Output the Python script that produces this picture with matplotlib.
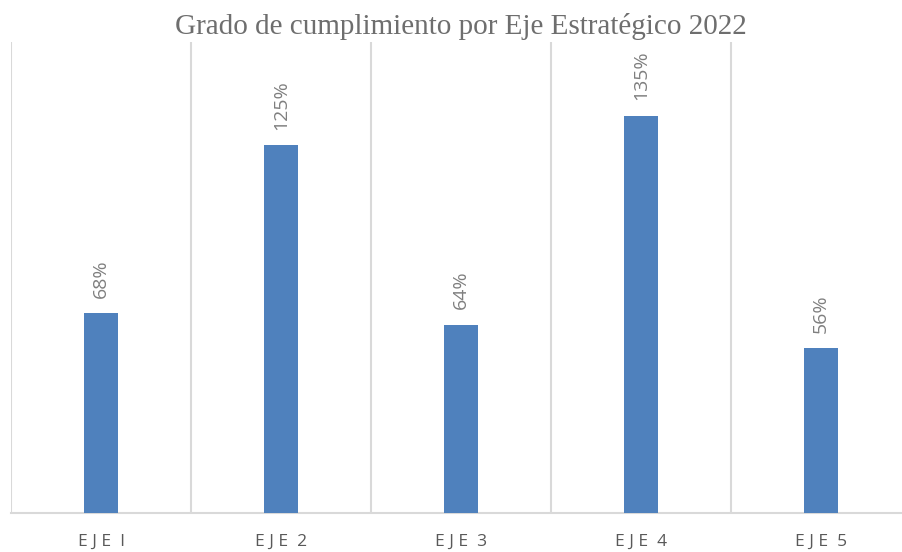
import numpy as np
import matplotlib.pyplot as plt

# Data
categories = ['E J E  I', 'E J E  2', 'E J E  3', 'E J E  4', 'E J E  5']
values = [68, 125, 64, 135, 56]
labels = ['68%', '125%', '64%', '135%', '56%']

BAR_COLOR = '#4F81BD'
GRID_COLOR = '#D9D9D9'
TEXT_COLOR = '#595959'

fig = plt.figure(figsize=(9.02, 5.52), dpi=100)
ax = fig.add_axes([11 / 902, 39 / 552, 1 - 11 / 902, (513 - 42) / 552])

x = np.arange(len(categories))
ax.bar(x, values, width=0.185, color=BAR_COLOR, zorder=3)

# category separators
for b in np.arange(-0.5, len(categories) + 0.5, 1):
    ax.axvline(b, color=GRID_COLOR, lw=1.5, zorder=1)

for xi, v, lab in zip(x, values, labels):
    ax.annotate(lab, (xi, v), xytext=(0, 11), textcoords='offset points',
                rotation=90, ha='center', va='bottom', fontsize=14,
                color='#7F7F7F', family='Open Sans')

ax.set_xlim(-0.5, 4.45)
ax.set_ylim(0, 160)
ax.set_yticks([])
ax.set_xticks(x)
ax.set_xticklabels(categories, fontsize=12.5, color=TEXT_COLOR, family='Open Sans')
ax.tick_params(axis='x', length=0, pad=15)

for side in ['top', 'right', 'left']:
    ax.spines[side].set_visible(False)
ax.spines['bottom'].set_color(GRID_COLOR)
ax.spines['bottom'].set_linewidth(1.5)

fig.text(0.511, 1 - 26 / 552, 'Grado de cumplimiento por Eje Estratégico 2022',
         ha='center', va='center', fontsize=21, color='#6E6E6E',
         family='Liberation Serif')

fig.savefig('out.png', dpi=100)
